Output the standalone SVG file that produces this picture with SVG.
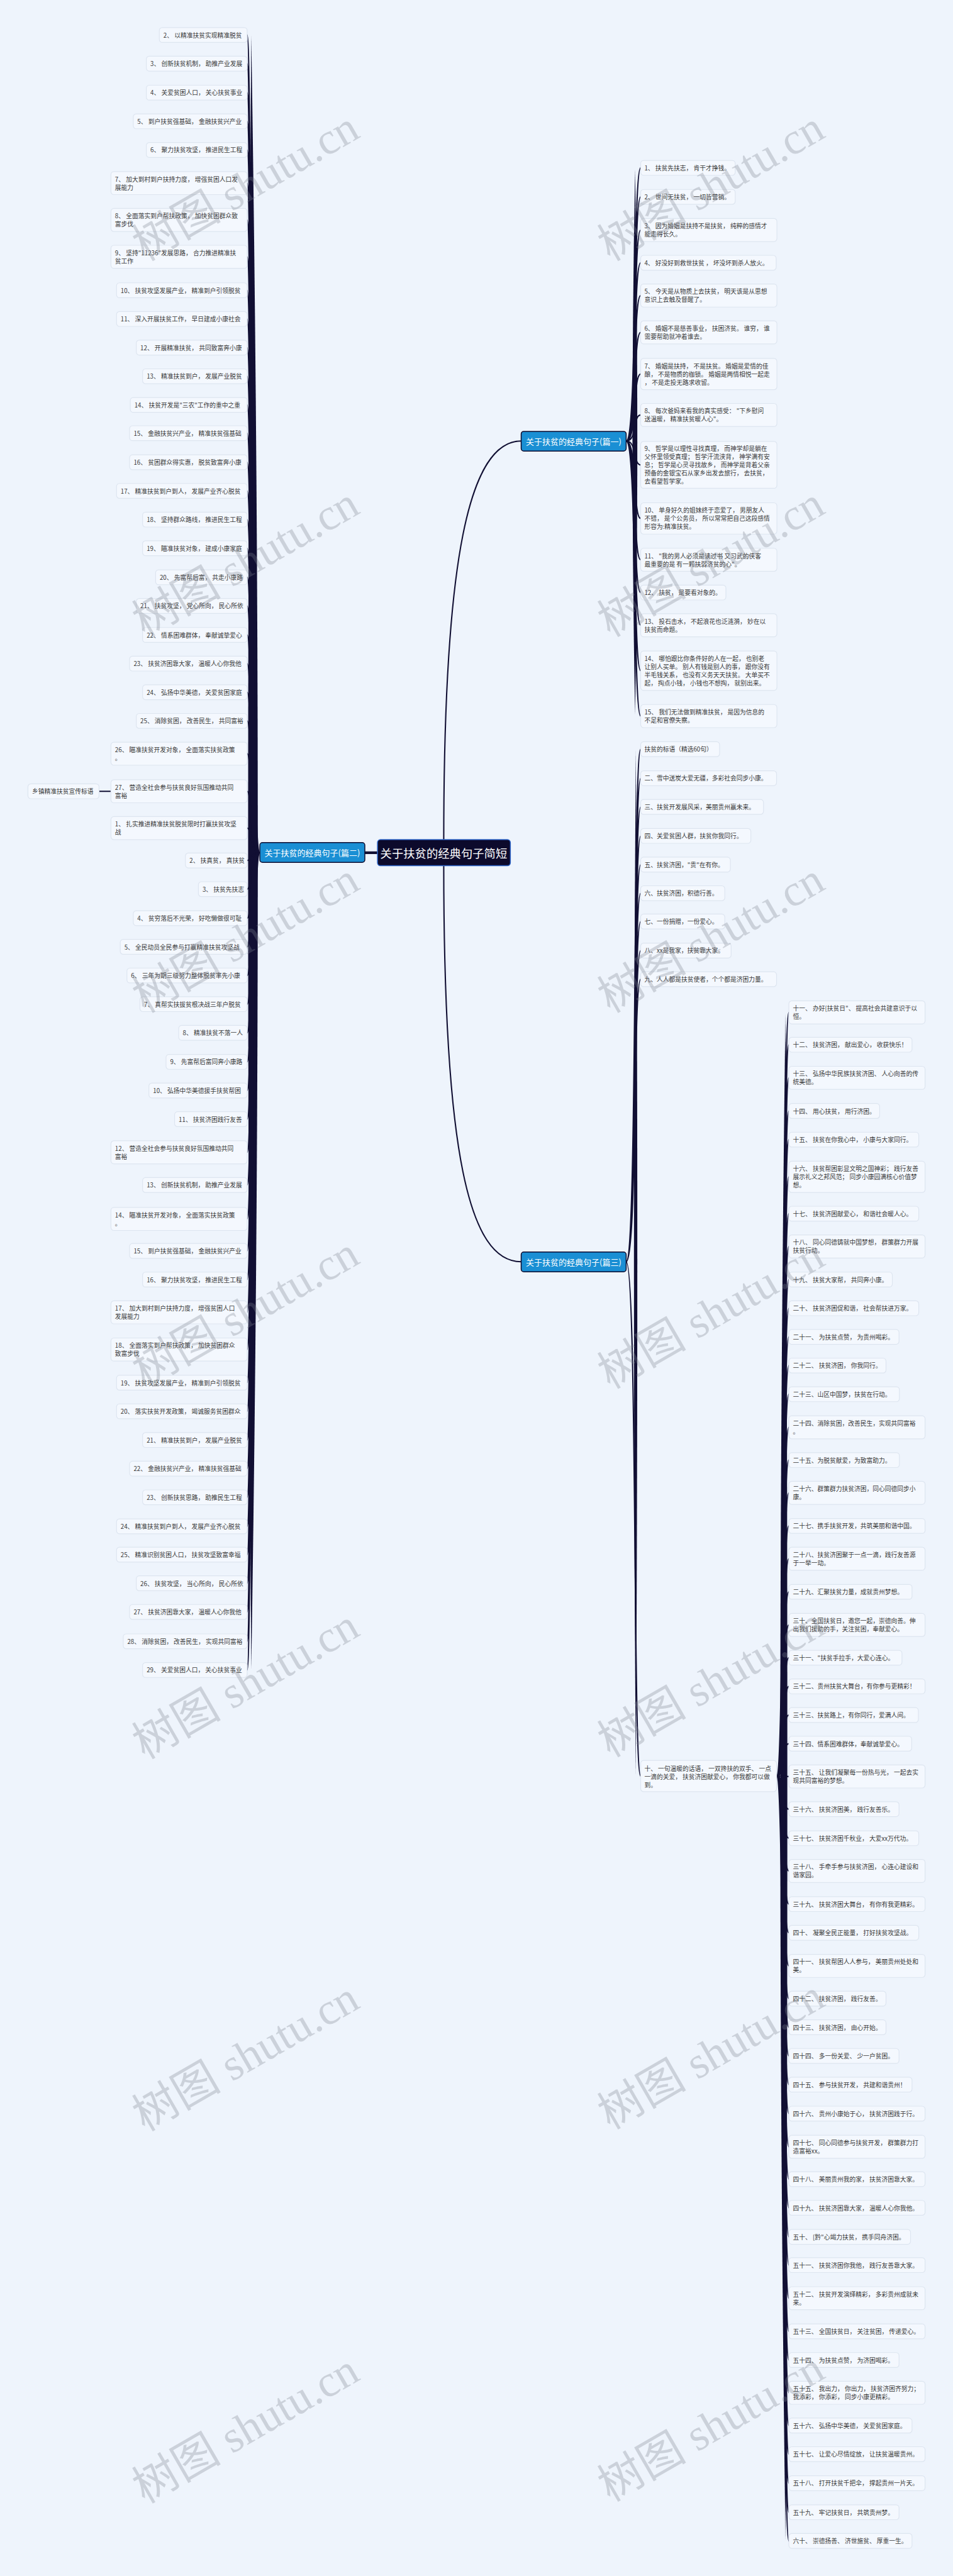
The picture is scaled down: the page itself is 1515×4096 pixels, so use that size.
<svg xmlns="http://www.w3.org/2000/svg" width="1515" height="4096" viewBox="0 0 1515 4096">
<style>
.b{fill:#f4f8fe;stroke:#dde5f0;stroke-width:2}
.t{font-family:"Noto Sans CJK SC","Noto Sans",sans-serif;font-size:16.5px;fill:#3a3a3a;dominant-baseline:central}
.c{fill:none;stroke:#110f33;stroke-width:3.5;stroke-linecap:round}
.k{fill:#110f33}
.bn{fill:#1a8fd4;stroke:#0d0b2e;stroke-width:2.5}
.tn{font-family:"Noto Sans CJK SC",sans-serif;font-size:22px;fill:#fff;text-anchor:middle;dominant-baseline:central}
.rn{fill:#0c0a2c;stroke:#2f66c9;stroke-width:2.5}
.tr{font-family:"Noto Sans CJK SC",sans-serif;font-size:31px;fill:#fff;text-anchor:middle;dominant-baseline:central}
.w{font-family:"Liberation Serif","Noto Sans CJK SC",serif;font-size:120px;fill:#7d838f;opacity:.3;text-anchor:middle;dominant-baseline:central}
</style>
<rect width="1515" height="4096" fill="#eef4fc"/>
<g transform="scale(0.5918)">
<g id="connectors">
<path class="k" d="M675 96Q710 2291 675 4484Q658 2291 675 96Z"/>
<path class="k" d="M1706 455Q1718 1185 1706 1920Q1692 1185 1706 455Z"/>
<path class="k" d="M1708 2015Q1716 3390 1708 4768Q1698 3390 1708 2015Z"/>
<path class="k" d="M2110 2722Q2120 4772 2110 6825Q2082 4772 2110 2722Z"/>
<path class="c" style="stroke-width:7" d="M980 2291H1014"/>
<path class="c" d="M1192 2256C1192 1500 1260 1185 1400 1185M1192 2326C1192 3100 1260 3390 1400 3390M266 2126H298"/>
<path class="c" d="M698 2291C670 2291 678 94 664 94M698 2291C670 2291 678 171 664 171M698 2291C670 2291 678 249 664 249M698 2291C670 2291 678 326 664 326M698 2291C670 2291 678 403 664 403M698 2291C670 2291 678 492 664 492M698 2291C670 2291 678 591 664 591M698 2291C670 2291 678 690 664 690M698 2291C670 2291 678 780 664 780M698 2291C670 2291 678 857 664 857M698 2291C670 2291 678 934 664 934M698 2291C670 2291 678 1011 664 1011M698 2291C670 2291 678 1088 664 1088M698 2291C670 2291 678 1164 664 1164M698 2291C670 2291 678 1242 664 1242M698 2291C670 2291 678 1319 664 1319M698 2291C670 2291 678 1396 664 1396M698 2291C670 2291 678 1473 664 1473M698 2291C670 2291 678 1551 664 1551M698 2291C670 2291 678 1628 664 1628M698 2291C670 2291 678 1706 664 1706M698 2291C670 2291 678 1783 664 1783M698 2291C670 2291 678 1860 664 1860M698 2291C670 2291 678 1937 664 1937M698 2291C670 2291 678 2025 664 2025M698 2291C670 2291 678 2126 664 2126M698 2291C670 2291 678 2225 664 2225M698 2291C670 2291 678 2312 664 2312M698 2291C670 2291 678 2389 664 2389M698 2291C670 2291 678 2467 664 2467M698 2291C670 2291 678 2544 664 2544M698 2291C670 2291 678 2621 664 2621M698 2291C670 2291 678 2698 664 2698M698 2291C670 2291 678 2775 664 2775M698 2291C670 2291 678 2853 664 2853M698 2291C670 2291 678 2930 664 2930M698 2291C670 2291 678 3007 664 3007M698 2291C670 2291 678 3096 664 3096M698 2291C670 2291 678 3184 664 3184M698 2291C670 2291 678 3275 664 3275M698 2291C670 2291 678 3361 664 3361M698 2291C670 2291 678 3438 664 3438M698 2291C670 2291 678 3526 664 3526M698 2291C670 2291 678 3626 664 3626M698 2291C670 2291 678 3715 664 3715M698 2291C670 2291 678 3792 664 3792M698 2291C670 2291 678 3869 664 3869M698 2291C670 2291 678 3946 664 3946M698 2291C670 2291 678 4023 664 4023M698 2291C670 2291 678 4101 664 4101M698 2291C670 2291 678 4177 664 4177M698 2291C670 2291 678 4254 664 4254M698 2291C670 2291 678 4331 664 4331M698 2291C670 2291 678 4410 664 4410M698 2291C670 2291 678 4487 664 4487"/>
<path class="c" d="M1682 1185C1712 1185 1700 451 1721 451M1682 1185C1712 1185 1700 529 1721 529M1682 1185C1712 1185 1700 618 1721 618M1682 1185C1712 1185 1700 706 1721 706M1682 1185C1712 1185 1700 794 1721 794M1682 1185C1712 1185 1700 893 1721 893M1682 1185C1712 1185 1700 1005 1721 1005M1682 1185C1712 1185 1700 1115 1721 1115M1682 1185C1712 1185 1700 1249 1721 1249M1682 1185C1712 1185 1700 1393 1721 1393M1682 1185C1712 1185 1700 1504 1721 1504M1682 1185C1712 1185 1700 1592 1721 1592M1682 1185C1712 1185 1700 1680 1721 1680M1682 1185C1712 1185 1700 1802 1721 1802M1682 1185C1712 1185 1700 1924 1721 1924"/>
<path class="c" d="M1682 3390C1712 3390 1700 2013 1721 2013M1682 3390C1712 3390 1700 2091 1721 2091M1682 3390C1712 3390 1700 2168 1721 2168M1682 3390C1712 3390 1700 2246 1721 2246M1682 3390C1712 3390 1700 2323 1721 2323M1682 3390C1712 3390 1700 2400 1721 2400M1682 3390C1712 3390 1700 2476 1721 2476M1682 3390C1712 3390 1700 2554 1721 2554M1682 3390C1712 3390 1700 2631 1721 2631M1682 3390C1712 3390 1700 4772 1721 4772"/>
<path class="c" d="M2086 4772C2112 4772 2100 2720 2119 2720M2086 4772C2112 4772 2100 2807 2119 2807M2086 4772C2112 4772 2100 2896 2119 2896M2086 4772C2112 4772 2100 2985 2119 2985M2086 4772C2112 4772 2100 3062 2119 3062M2086 4772C2112 4772 2100 3162 2119 3162M2086 4772C2112 4772 2100 3261 2119 3261M2086 4772C2112 4772 2100 3349 2119 3349M2086 4772C2112 4772 2100 3438 2119 3438M2086 4772C2112 4772 2100 3515 2119 3515M2086 4772C2112 4772 2100 3592 2119 3592M2086 4772C2112 4772 2100 3669 2119 3669M2086 4772C2112 4772 2100 3746 2119 3746M2086 4772C2112 4772 2100 3835 2119 3835M2086 4772C2112 4772 2100 3923 2119 3923M2086 4772C2112 4772 2100 4011 2119 4011M2086 4772C2112 4772 2100 4100 2119 4100M2086 4772C2112 4772 2100 4188 2119 4188M2086 4772C2112 4772 2100 4277 2119 4277M2086 4772C2112 4772 2100 4366 2119 4366M2086 4772C2112 4772 2100 4454 2119 4454M2086 4772C2112 4772 2100 4531 2119 4531M2086 4772C2112 4772 2100 4608 2119 4608M2086 4772C2112 4772 2100 4685 2119 4685M2086 4772C2112 4772 2100 4773 2119 4773M2086 4772C2112 4772 2100 4861 2119 4861M2086 4772C2112 4772 2100 4939 2119 4939M2086 4772C2112 4772 2100 5027 2119 5027M2086 4772C2112 4772 2100 5116 2119 5116M2086 4772C2112 4772 2100 5193 2119 5193M2086 4772C2112 4772 2100 5282 2119 5282M2086 4772C2112 4772 2100 5370 2119 5370M2086 4772C2112 4772 2100 5447 2119 5447M2086 4772C2112 4772 2100 5524 2119 5524M2086 4772C2112 4772 2100 5601 2119 5601M2086 4772C2112 4772 2100 5679 2119 5679M2086 4772C2112 4772 2100 5768 2119 5768M2086 4772C2112 4772 2100 5855 2119 5855M2086 4772C2112 4772 2100 5932 2119 5932M2086 4772C2112 4772 2100 6010 2119 6010M2086 4772C2112 4772 2100 6086 2119 6086M2086 4772C2112 4772 2100 6175 2119 6175M2086 4772C2112 4772 2100 6264 2119 6264M2086 4772C2112 4772 2100 6341 2119 6341M2086 4772C2112 4772 2100 6429 2119 6429M2086 4772C2112 4772 2100 6517 2119 6517M2086 4772C2112 4772 2100 6594 2119 6594M2086 4772C2112 4772 2100 6672 2119 6672M2086 4772C2112 4772 2100 6750 2119 6750M2086 4772C2112 4772 2100 6827 2119 6827"/>
</g>

<g id="root"><rect class="rn" x="1014" y="2256" width="357" height="70" rx="8"/><text class="tr" x="1192" y="2291">关于扶贫的经典句子简短</text></g>
<g id="b2"><rect class="bn" x="698" y="2264" width="282" height="53" rx="7"/><text class="tn" x="839" y="2291">关于扶贫的经典句子(篇二)</text></g>
<g id="b1"><rect class="bn" x="1400" y="1159" width="282" height="53" rx="7"/><text class="tn" x="1541" y="1185">关于扶贫的经典句子(篇一)</text></g>
<g id="b3"><rect class="bn" x="1400" y="3364" width="282" height="53" rx="7"/><text class="tn" x="1541" y="3390">关于扶贫的经典句子(篇三)</text></g>

<g id="a2"><rect class="b" x="428" y="74" width="236" height="40" rx="8"/><text class="t" x="439" y="94">2、 以精准扶贫实现精准脱贫</text></g>
<g id="a3"><rect class="b" x="393" y="151" width="271" height="40" rx="8"/><text class="t" x="404" y="171">3、 创新扶贫机制， 助推产业发展</text></g>
<g id="a4"><rect class="b" x="393" y="229" width="271" height="40" rx="8"/><text class="t" x="404" y="249">4、 关爱贫困人口， 关心扶贫事业</text></g>
<g id="a5"><rect class="b" x="358" y="306" width="306" height="40" rx="8"/><text class="t" x="369" y="326">5、 到户扶贫强基础， 金融扶贫兴产业</text></g>
<g id="a6"><rect class="b" x="393" y="383" width="271" height="40" rx="8"/><text class="t" x="404" y="403">6、 聚力扶贫攻坚， 推进民生工程</text></g>
<g id="a7"><rect class="b" x="298" y="461" width="366" height="62" rx="8"/><text class="t" x="309" y="481">7、 加大到村到户扶持力度， 增强贫困人口发<tspan x="309" y="503">展能力</tspan></text></g>
<g id="a8"><rect class="b" x="298" y="560" width="366" height="62" rx="8"/><text class="t" x="309" y="580">8、 全面落实到户帮扶政策， 加快贫困群众致<tspan x="309" y="602">富步伐</tspan></text></g>
<g id="a9"><rect class="b" x="298" y="659" width="366" height="62" rx="8"/><text class="t" x="309" y="679">9、 坚持"11236"发展思路， 合力推进精准扶<tspan x="309" y="701">贫工作</tspan></text></g>
<g id="a10"><rect class="b" x="313" y="760" width="351" height="40" rx="8"/><text class="t" x="324" y="780">10、 扶贫攻坚发展产业， 精准到户引领脱贫</text></g>
<g id="a11"><rect class="b" x="313" y="837" width="351" height="40" rx="8"/><text class="t" x="324" y="857">11、 深入开展扶贫工作， 早日建成小康社会</text></g>
<g id="a12"><rect class="b" x="366" y="914" width="298" height="40" rx="8"/><text class="t" x="377" y="934">12、 开展精准扶贫， 共同致富奔小康</text></g>
<g id="a13"><rect class="b" x="383" y="991" width="281" height="40" rx="8"/><text class="t" x="394" y="1011">13、 精准扶贫到户， 发展产业脱贫</text></g>
<g id="a14"><rect class="b" x="350" y="1068" width="314" height="40" rx="8"/><text class="t" x="361" y="1088">14、 扶贫开发是"三农"工作的重中之重</text></g>
<g id="a15"><rect class="b" x="348" y="1144" width="316" height="40" rx="8"/><text class="t" x="359" y="1164">15、 金融扶贫兴产业， 精准扶贫强基础</text></g>
<g id="a16"><rect class="b" x="348" y="1222" width="316" height="40" rx="8"/><text class="t" x="359" y="1242">16、 贫困群众得实惠， 脱贫致富奔小康</text></g>
<g id="a17"><rect class="b" x="313" y="1299" width="351" height="40" rx="8"/><text class="t" x="324" y="1319">17、 精准扶贫到户到人， 发展产业齐心脱贫</text></g>
<g id="a18"><rect class="b" x="383" y="1376" width="281" height="40" rx="8"/><text class="t" x="394" y="1396">18、 坚持群众路线， 推进民生工程</text></g>
<g id="a19"><rect class="b" x="383" y="1453" width="281" height="40" rx="8"/><text class="t" x="394" y="1473">19、 瞄准扶贫对象， 建成小康家庭</text></g>
<g id="a20"><rect class="b" x="418" y="1531" width="246" height="40" rx="8"/><text class="t" x="429" y="1551">20、 先富帮后富， 共走小康路</text></g>
<g id="a21"><rect class="b" x="366" y="1608" width="298" height="40" rx="8"/><text class="t" x="377" y="1628">21、 扶贫攻坚， 党心所向， 民心所依</text></g>
<g id="a22"><rect class="b" x="383" y="1686" width="281" height="40" rx="8"/><text class="t" x="394" y="1706">22、 情系困难群体， 奉献诚挚爱心</text></g>
<g id="a23"><rect class="b" x="348" y="1763" width="316" height="40" rx="8"/><text class="t" x="359" y="1783">23、 扶贫济困靠大家， 温暖人心你我他</text></g>
<g id="a24"><rect class="b" x="383" y="1840" width="281" height="40" rx="8"/><text class="t" x="394" y="1860">24、 弘扬中华美德， 关爱贫困家庭</text></g>
<g id="a25"><rect class="b" x="366" y="1917" width="298" height="40" rx="8"/><text class="t" x="377" y="1937">25、 消除贫困， 改善民生， 共同富裕</text></g>
<g id="a26"><rect class="b" x="298" y="1994" width="366" height="62" rx="8"/><text class="t" x="309" y="2014">26、 瞄准扶贫开发对象， 全面落实扶贫政策<tspan x="309" y="2036">。</tspan></text></g>
<g id="a27"><rect class="b" x="298" y="2095" width="366" height="62" rx="8"/><text class="t" x="309" y="2115">27、 营造全社会参与扶贫良好氛围推动共同<tspan x="309" y="2137">富裕</tspan></text></g>
<g id="xz"><rect class="b" x="75" y="2106" width="191" height="40" rx="8"/><text class="t" x="86" y="2126">乡镇精准扶贫宣传标语</text></g>
<g id="m1"><rect class="b" x="298" y="2194" width="366" height="62" rx="8"/><text class="t" x="309" y="2214">1、 扎实推进精准扶贫脱贫限时打赢扶贫攻坚<tspan x="309" y="2236">战</tspan></text></g>
<g id="m2"><rect class="b" x="498" y="2292" width="166" height="40" rx="8"/><text class="t" x="509" y="2312">2、 扶真贫， 真扶贫</text></g>
<g id="m3"><rect class="b" x="533" y="2369" width="131" height="40" rx="8"/><text class="t" x="544" y="2389">3、 扶贫先扶志</text></g>
<g id="m4"><rect class="b" x="358" y="2447" width="306" height="40" rx="8"/><text class="t" x="369" y="2467">4、 贫穷落后不光荣， 好吃懒做很可耻</text></g>
<g id="m5"><rect class="b" x="323" y="2524" width="341" height="40" rx="8"/><text class="t" x="334" y="2544">5、 全民动员全民参与打赢精准扶贫攻坚战</text></g>
<g id="m6"><rect class="b" x="341" y="2601" width="323" height="40" rx="8"/><text class="t" x="352" y="2621">6、 三年为期三级努力整体脱贫率先小康</text></g>
<g id="m7"><rect class="b" x="376" y="2678" width="288" height="40" rx="8"/><text class="t" x="387" y="2698">7、 真帮实扶拔贫根决战三年户脱贫</text></g>
<g id="m8"><rect class="b" x="480" y="2755" width="184" height="40" rx="8"/><text class="t" x="491" y="2775">8、 精准扶贫不落一人</text></g>
<g id="m9"><rect class="b" x="446" y="2833" width="218" height="40" rx="8"/><text class="t" x="457" y="2853">9、 先富帮后富同奔小康路</text></g>
<g id="m10"><rect class="b" x="400" y="2910" width="264" height="40" rx="8"/><text class="t" x="411" y="2930">10、 弘扬中华美德援手扶贫帮困</text></g>
<g id="m11"><rect class="b" x="469" y="2987" width="195" height="40" rx="8"/><text class="t" x="480" y="3007">11、 扶贫济困践行友善</text></g>
<g id="m12"><rect class="b" x="298" y="3065" width="366" height="62" rx="8"/><text class="t" x="309" y="3085">12、 营造全社会参与扶贫良好氛围推动共同<tspan x="309" y="3107">富裕</tspan></text></g>
<g id="m13"><rect class="b" x="383" y="3164" width="281" height="40" rx="8"/><text class="t" x="394" y="3184">13、 创新扶贫机制， 助推产业发展</text></g>
<g id="m14"><rect class="b" x="298" y="3244" width="366" height="62" rx="8"/><text class="t" x="309" y="3264">14、 瞄准扶贫开发对象， 全面落实扶贫政策<tspan x="309" y="3286">。</tspan></text></g>
<g id="m15"><rect class="b" x="348" y="3341" width="316" height="40" rx="8"/><text class="t" x="359" y="3361">15、 到户扶贫强基础， 金融扶贫兴产业</text></g>
<g id="m16"><rect class="b" x="383" y="3418" width="281" height="40" rx="8"/><text class="t" x="394" y="3438">16、 聚力扶贫攻坚， 推进民生工程</text></g>
<g id="m17"><rect class="b" x="298" y="3495" width="366" height="62" rx="8"/><text class="t" x="309" y="3515">17、 加大到村到户扶持力度， 增强贫困人口<tspan x="309" y="3537">发展能力</tspan></text></g>
<g id="m18"><rect class="b" x="298" y="3595" width="366" height="62" rx="8"/><text class="t" x="309" y="3615">18、 全面落实到户帮扶政策， 加快贫困群众<tspan x="309" y="3637">致富步伐</tspan></text></g>
<g id="m19"><rect class="b" x="313" y="3695" width="351" height="40" rx="8"/><text class="t" x="324" y="3715">19、 扶贫攻坚发展产业， 精准到户引领脱贫</text></g>
<g id="m20"><rect class="b" x="313" y="3772" width="351" height="40" rx="8"/><text class="t" x="324" y="3792">20、 落实扶贫开发政策， 竭诚服务贫困群众</text></g>
<g id="m21"><rect class="b" x="383" y="3849" width="281" height="40" rx="8"/><text class="t" x="394" y="3869">21、 精准扶贫到户， 发展产业脱贫</text></g>
<g id="m22"><rect class="b" x="348" y="3926" width="316" height="40" rx="8"/><text class="t" x="359" y="3946">22、 金融扶贫兴产业， 精准扶贫强基础</text></g>
<g id="m23"><rect class="b" x="383" y="4003" width="281" height="40" rx="8"/><text class="t" x="394" y="4023">23、 创新扶贫思路， 助推民生工程</text></g>
<g id="m24"><rect class="b" x="313" y="4081" width="351" height="40" rx="8"/><text class="t" x="324" y="4101">24、 精准扶贫到户到人， 发展产业齐心脱贫</text></g>
<g id="m25"><rect class="b" x="313" y="4157" width="351" height="40" rx="8"/><text class="t" x="324" y="4177">25、 精准识别贫困人口， 扶贫攻坚致富幸福</text></g>
<g id="m26"><rect class="b" x="366" y="4234" width="298" height="40" rx="8"/><text class="t" x="377" y="4254">26、 扶贫攻坚， 当心所向， 民心所依</text></g>
<g id="m27"><rect class="b" x="348" y="4311" width="316" height="40" rx="8"/><text class="t" x="359" y="4331">27、 扶贫济困靠大家， 温暖人心你我他</text></g>
<g id="m28"><rect class="b" x="331" y="4390" width="333" height="40" rx="8"/><text class="t" x="342" y="4410">28、 消除贫困， 改善民生， 实现共同富裕</text></g>
<g id="m29"><rect class="b" x="383" y="4467" width="281" height="40" rx="8"/><text class="t" x="394" y="4487">29、 关爱贫困人口， 关心扶贫事业</text></g>

<g id="p1"><rect class="b" x="1721" y="431" width="254" height="40" rx="8"/><text class="t" x="1731" y="451">1、 扶贫先扶志， 肯干才挣钱。</text></g>
<g id="p2"><rect class="b" x="1721" y="509" width="254" height="40" rx="8"/><text class="t" x="1731" y="529">2、 世间无扶贫， 一切皆营销。</text></g>
<g id="p3"><rect class="b" x="1721" y="587" width="366" height="62" rx="8"/><text class="t" x="1731" y="607">3、 因为婚姻是扶持不是扶贫， 纯粹的感情才<tspan x="1731" y="629">能走得长久。</tspan></text></g>
<g id="p4"><rect class="b" x="1721" y="686" width="364" height="40" rx="8"/><text class="t" x="1731" y="706">4、 好没好到救世扶贫 ， 坏没坏到杀人放火。</text></g>
<g id="p5"><rect class="b" x="1721" y="763" width="366" height="62" rx="8"/><text class="t" x="1731" y="783">5、 今天是从物质上去扶贫， 明天该是从思想<tspan x="1731" y="805">意识上去触及督醒了。</tspan></text></g>
<g id="p6"><rect class="b" x="1721" y="862" width="366" height="62" rx="8"/><text class="t" x="1731" y="882">6、 婚姻不是慈善事业， 扶困济贫。 谁穷， 谁<tspan x="1731" y="904">需要帮助就冲着谁去。</tspan></text></g>
<g id="p7"><rect class="b" x="1721" y="963" width="366" height="84" rx="8"/><text class="t" x="1731" y="983">7、 婚姻是扶持， 不是扶贫。 婚姻是爱情的佳<tspan x="1731" y="1005">酿， 不是物质的枷锁。 婚姻是两情相悦一起走</tspan><tspan x="1731" y="1027">， 不是走投无路求收留。</tspan></text></g>
<g id="p8"><rect class="b" x="1721" y="1084" width="366" height="62" rx="8"/><text class="t" x="1731" y="1104">8、 每次爸妈来看我的真实感受： "下乡慰问<tspan x="1731" y="1126">送温暖， 精准扶贫暖人心"。</tspan></text></g>
<g id="p9"><rect class="b" x="1721" y="1186" width="366" height="126" rx="8"/><text class="t" x="1731" y="1205">9、 哲学是以理性寻找真理， 而神学却是躺在<tspan x="1731" y="1227">父怀里领受真理； 哲学汗流浃背， 神学满有安</tspan><tspan x="1731" y="1249">息； 哲学是心灵寻找故乡， 而神学是背着父亲</tspan><tspan x="1731" y="1271">预备的金银宝石从家乡出发去旅行， 去扶贫，</tspan><tspan x="1731" y="1293">去看望哲学家。</tspan></text></g>
<g id="p10"><rect class="b" x="1721" y="1351" width="366" height="84" rx="8"/><text class="t" x="1731" y="1371">10、 单身好久的姐妹终于恋爱了， 男朋友人<tspan x="1731" y="1393">不错， 是个公务员， 所以常常把自己这段感情</tspan><tspan x="1731" y="1415">形容为:精准扶贫。</tspan></text></g>
<g id="p11"><rect class="b" x="1721" y="1473" width="366" height="62" rx="8"/><text class="t" x="1731" y="1493">11、 "我的男人必须是读过书 又习武的侠客<tspan x="1731" y="1515">最重要的是 有一颗扶弱济贫的心"。</tspan></text></g>
<g id="p12"><rect class="b" x="1721" y="1572" width="229" height="40" rx="8"/><text class="t" x="1731" y="1592">12、 扶贫， 是要看对象的。</text></g>
<g id="p13"><rect class="b" x="1721" y="1649" width="366" height="62" rx="8"/><text class="t" x="1731" y="1669">13、 投石击水， 不起浪花也泛涟漪， 妙在以<tspan x="1731" y="1691">扶贫而命题。</tspan></text></g>
<g id="p14"><rect class="b" x="1721" y="1749" width="366" height="106" rx="8"/><text class="t" x="1731" y="1769">14、 哪怕跟比你条件好的人在一起， 也别老<tspan x="1731" y="1791">让别人买单。 别人有钱是别人的事， 跟你没有</tspan><tspan x="1731" y="1813">半毛钱关系， 也没有义务天天扶贫。 大单买不</tspan><tspan x="1731" y="1835">起， 掏点小钱， 小钱也不想掏， 就别出来。</tspan></text></g>
<g id="p15"><rect class="b" x="1721" y="1893" width="366" height="62" rx="8"/><text class="t" x="1731" y="1913">15、 我们无法做到精准扶贫， 是因为信息的<tspan x="1731" y="1935">不足和官僚失察。</tspan></text></g>

<g id="s0"><rect class="b" x="1721" y="1993" width="212" height="40" rx="8"/><text class="t" x="1731" y="2013">扶贫的标语（精选60句）</text></g>
<g id="s2"><rect class="b" x="1721" y="2071" width="365" height="40" rx="8"/><text class="t" x="1731" y="2091">二、雪中送炭大爱无疆，多彩社会同步小康。</text></g>
<g id="s3"><rect class="b" x="1721" y="2148" width="330" height="40" rx="8"/><text class="t" x="1731" y="2168">三、扶贫开发展风采，美丽贵州赢未来。</text></g>
<g id="s4"><rect class="b" x="1721" y="2226" width="296" height="40" rx="8"/><text class="t" x="1731" y="2246">四、关爱贫困人群，扶贫你我同行。</text></g>
<g id="s5"><rect class="b" x="1721" y="2303" width="241" height="40" rx="8"/><text class="t" x="1731" y="2323">五、扶贫济困，"贵"在有你。</text></g>
<g id="s6"><rect class="b" x="1721" y="2380" width="226" height="40" rx="8"/><text class="t" x="1731" y="2400">六、扶贫济困，积德行善。</text></g>
<g id="s7"><rect class="b" x="1721" y="2456" width="226" height="40" rx="8"/><text class="t" x="1731" y="2476">七、一份捐赠，一份爱心。</text></g>
<g id="s8"><rect class="b" x="1721" y="2534" width="243" height="40" rx="8"/><text class="t" x="1731" y="2554">八、xx是我家，扶贫靠大家。</text></g>
<g id="s9"><rect class="b" x="1721" y="2611" width="365" height="40" rx="8"/><text class="t" x="1731" y="2631">九、人人都是扶贫使者，个个都是济困力量。</text></g>
<g id="s10"><rect class="b" x="1721" y="4730" width="365" height="84" rx="8"/><text class="t" x="1731" y="4751">十、 一句温暖的话语， 一双搀扶的双手、 一点<tspan x="1731" y="4773">一滴的关爱， 扶贫济困献爱心， 你我都可以做</tspan><tspan x="1731" y="4795">到。</tspan></text></g>

<g id="t11"><rect class="b" x="2119" y="2689" width="366" height="62" rx="8"/><text class="t" x="2130" y="2709">十一、 办好[扶贫日"、 提高社会共建意识于以<tspan x="2130" y="2731">恒。</tspan></text></g>
<g id="t12"><rect class="b" x="2119" y="2787" width="331" height="40" rx="8"/><text class="t" x="2130" y="2807">十二、 扶贫济困， 献出爱心， 收获快乐！</text></g>
<g id="t13"><rect class="b" x="2119" y="2865" width="366" height="62" rx="8"/><text class="t" x="2130" y="2885">十三、 弘扬中华民族扶贫济困、 人心向善的传<tspan x="2130" y="2907">统美德。</tspan></text></g>
<g id="t14"><rect class="b" x="2119" y="2965" width="244" height="40" rx="8"/><text class="t" x="2130" y="2985">十四、 用心扶贫， 用行济困。</text></g>
<g id="t15"><rect class="b" x="2119" y="3042" width="349" height="40" rx="8"/><text class="t" x="2130" y="3062">十五、 扶贫在你我心中， 小康与大家同行。</text></g>
<g id="t16"><rect class="b" x="2119" y="3120" width="366" height="84" rx="8"/><text class="t" x="2130" y="3140">十六、 扶贫帮困彰显文明之国神彩； 践行友善<tspan x="2130" y="3162">展示礼义之邦风范； 同步小康园满核心价值梦</tspan><tspan x="2130" y="3184">想。</tspan></text></g>
<g id="t17"><rect class="b" x="2119" y="3241" width="349" height="40" rx="8"/><text class="t" x="2130" y="3261">十七、 扶贫济困献爱心， 和谐社会暖人心。</text></g>
<g id="t18"><rect class="b" x="2119" y="3318" width="366" height="62" rx="8"/><text class="t" x="2130" y="3338">十八、 同心同德铸就中国梦想， 群策群力开展<tspan x="2130" y="3360">扶贫行动。</tspan></text></g>
<g id="t19"><rect class="b" x="2119" y="3418" width="278" height="40" rx="8"/><text class="t" x="2130" y="3438">十九、 扶贫大家帮， 共同奔小康。</text></g>
<g id="t20"><rect class="b" x="2119" y="3495" width="349" height="40" rx="8"/><text class="t" x="2130" y="3515">二十、 扶贫济困促和谐， 社会帮扶进万家。</text></g>
<g id="t21"><rect class="b" x="2119" y="3572" width="296" height="40" rx="8"/><text class="t" x="2130" y="3592">二十一、 为扶贫点赞， 为贵州喝彩。</text></g>
<g id="t22"><rect class="b" x="2119" y="3649" width="261" height="40" rx="8"/><text class="t" x="2130" y="3669">二十二、 扶贫济困， 你我同行。</text></g>
<g id="t23"><rect class="b" x="2119" y="3726" width="297" height="40" rx="8"/><text class="t" x="2130" y="3746">二十三、山区中国梦，扶贫在行动。</text></g>
<g id="t24"><rect class="b" x="2119" y="3804" width="366" height="62" rx="8"/><text class="t" x="2130" y="3824">二十四、消除贫困，改善民生，实现共同富裕<tspan x="2130" y="3846">。</tspan></text></g>
<g id="t25"><rect class="b" x="2119" y="3903" width="297" height="40" rx="8"/><text class="t" x="2130" y="3923">二十五、为脱贫献爱，为致富助力。</text></g>
<g id="t26"><rect class="b" x="2119" y="3980" width="366" height="62" rx="8"/><text class="t" x="2130" y="4000">二十六、群策群力扶贫济困，同心同德同步小<tspan x="2130" y="4022">康。</tspan></text></g>
<g id="t27"><rect class="b" x="2119" y="4080" width="366" height="40" rx="8"/><text class="t" x="2130" y="4100">二十七、携手扶贫开发，共筑美丽和谐中国。</text></g>
<g id="t28"><rect class="b" x="2119" y="4157" width="366" height="62" rx="8"/><text class="t" x="2130" y="4177">二十八、扶贫济困聚于一点一滴，践行友善源<tspan x="2130" y="4199">于一举一动。</tspan></text></g>
<g id="t29"><rect class="b" x="2119" y="4257" width="331" height="40" rx="8"/><text class="t" x="2130" y="4277">二十九、汇聚扶贫力量，成就贵州梦想。</text></g>
<g id="t30"><rect class="b" x="2119" y="4335" width="366" height="62" rx="8"/><text class="t" x="2130" y="4355">三十、全国扶贫日，邀您一起，崇德向善。伸<tspan x="2130" y="4377">出我们援助的手，关注贫困，奉献爱心。</tspan></text></g>
<g id="t31"><rect class="b" x="2119" y="4434" width="304" height="40" rx="8"/><text class="t" x="2130" y="4454">三十一、"扶贫手拉手，大爱心连心。</text></g>
<g id="t32"><rect class="b" x="2119" y="4511" width="366" height="40" rx="8"/><text class="t" x="2130" y="4531">三十二、贵州扶贫大舞台，有你参与更精彩！</text></g>
<g id="t33"><rect class="b" x="2119" y="4588" width="348" height="40" rx="8"/><text class="t" x="2130" y="4608">三十三、扶贫路上，有你同行，爱满人间。</text></g>
<g id="t34"><rect class="b" x="2119" y="4665" width="330" height="40" rx="8"/><text class="t" x="2130" y="4685">三十四、情系困难群体，奉献诚挚爱心。</text></g>
<g id="t35"><rect class="b" x="2119" y="4742" width="366" height="62" rx="8"/><text class="t" x="2130" y="4762">三十五、 让我们凝聚每一份热与光， 一起去实<tspan x="2130" y="4784">现共同富裕的梦想。</tspan></text></g>
<g id="t36"><rect class="b" x="2119" y="4841" width="296" height="40" rx="8"/><text class="t" x="2130" y="4861">三十六、 扶贫济困美， 践行友善乐。</text></g>
<g id="t37"><rect class="b" x="2119" y="4919" width="349" height="40" rx="8"/><text class="t" x="2130" y="4939">三十七、 扶贫济困千秋业， 大爱xx万代功。</text></g>
<g id="t38"><rect class="b" x="2119" y="4996" width="366" height="62" rx="8"/><text class="t" x="2130" y="5016">三十八、 手牵手参与扶贫济困， 心连心建设和<tspan x="2130" y="5038">谐家园。</tspan></text></g>
<g id="t39"><rect class="b" x="2119" y="5096" width="366" height="40" rx="8"/><text class="t" x="2130" y="5116">三十九、 扶贫济困大舞台， 有你有我更精彩。</text></g>
<g id="t40"><rect class="b" x="2119" y="5173" width="349" height="40" rx="8"/><text class="t" x="2130" y="5193">四十、 凝聚全民正能量， 打好扶贫攻坚战。</text></g>
<g id="t41"><rect class="b" x="2119" y="5251" width="366" height="62" rx="8"/><text class="t" x="2130" y="5271">四十一、 扶贫帮困人人参与， 美丽贵州处处和<tspan x="2130" y="5293">美。</tspan></text></g>
<g id="t42"><rect class="b" x="2119" y="5350" width="261" height="40" rx="8"/><text class="t" x="2130" y="5370">四十二、 扶贫济困， 践行友善。</text></g>
<g id="t43"><rect class="b" x="2119" y="5427" width="261" height="40" rx="8"/><text class="t" x="2130" y="5447">四十三、 扶贫济困， 由心开始。</text></g>
<g id="t44"><rect class="b" x="2119" y="5504" width="296" height="40" rx="8"/><text class="t" x="2130" y="5524">四十四、 多一份关爱、 少一户贫困。</text></g>
<g id="t45"><rect class="b" x="2119" y="5581" width="331" height="40" rx="8"/><text class="t" x="2130" y="5601">四十五、 参与扶贫开发， 共建和谐贵州！</text></g>
<g id="t46"><rect class="b" x="2119" y="5659" width="366" height="40" rx="8"/><text class="t" x="2130" y="5679">四十六、 贵州小康始于心， 扶贫济困践于行。</text></g>
<g id="t47"><rect class="b" x="2119" y="5737" width="366" height="62" rx="8"/><text class="t" x="2130" y="5757">四十七、 同心同德参与扶贫开发， 群策群力打<tspan x="2130" y="5779">造富裕xx。</tspan></text></g>
<g id="t48"><rect class="b" x="2119" y="5835" width="366" height="40" rx="8"/><text class="t" x="2130" y="5855">四十八、 美丽贵州我的家， 扶贫济困靠大家。</text></g>
<g id="t49"><rect class="b" x="2119" y="5912" width="366" height="40" rx="8"/><text class="t" x="2130" y="5932">四十九、 扶贫济困靠大家， 温暖人心你我他。</text></g>
<g id="t50"><rect class="b" x="2119" y="5990" width="327" height="40" rx="8"/><text class="t" x="2130" y="6010">五十、 [黔"心竭力扶贫， 携手同舟济困。</text></g>
<g id="t51"><rect class="b" x="2119" y="6066" width="366" height="40" rx="8"/><text class="t" x="2130" y="6086">五十一、 扶贫济困你我他， 践行友善靠大家。</text></g>
<g id="t52"><rect class="b" x="2119" y="6144" width="366" height="62" rx="8"/><text class="t" x="2130" y="6164">五十二、 扶贫开发演绎精彩， 多彩贵州成就未<tspan x="2130" y="6186">来。</tspan></text></g>
<g id="t53"><rect class="b" x="2119" y="6244" width="366" height="40" rx="8"/><text class="t" x="2130" y="6264">五十三、 全国扶贫日， 关注贫困， 传递爱心。</text></g>
<g id="t54"><rect class="b" x="2119" y="6321" width="296" height="40" rx="8"/><text class="t" x="2130" y="6341">五十四、 为扶贫点赞， 为济困喝彩。</text></g>
<g id="t55"><rect class="b" x="2119" y="6398" width="366" height="62" rx="8"/><text class="t" x="2130" y="6418">五十五、 我出力， 你出力， 扶贫济困齐努力；<tspan x="2130" y="6440">我添彩， 你添彩， 同步小康更精彩。</tspan></text></g>
<g id="t56"><rect class="b" x="2119" y="6497" width="331" height="40" rx="8"/><text class="t" x="2130" y="6517">五十六、 弘扬中华美德， 关爱贫困家庭。</text></g>
<g id="t57"><rect class="b" x="2119" y="6574" width="366" height="40" rx="8"/><text class="t" x="2130" y="6594">五十七、 让爱心尽情绽放， 让扶贫温暖贵州。</text></g>
<g id="t58"><rect class="b" x="2119" y="6652" width="366" height="40" rx="8"/><text class="t" x="2130" y="6672">五十八、 打开扶贫千把伞， 撑起贵州一片天。</text></g>
<g id="t59"><rect class="b" x="2119" y="6730" width="296" height="40" rx="8"/><text class="t" x="2130" y="6750">五十九、 牢记扶贫日， 共筑贵州梦。</text></g>
<g id="t60"><rect class="b" x="2119" y="6807" width="331" height="40" rx="8"/><text class="t" x="2130" y="6827">六十、 崇德扬善、 济世施贫、 厚重一生。</text></g>

<g id="watermarks">
<text class="w" x="660" y="500" transform="rotate(-30 660 500)">树图 shutu.cn</text>
<text class="w" x="1910" y="500" transform="rotate(-30 1910 500)">树图 shutu.cn</text>
<text class="w" x="660" y="1510" transform="rotate(-30 660 1510)">树图 shutu.cn</text>
<text class="w" x="1910" y="1510" transform="rotate(-30 1910 1510)">树图 shutu.cn</text>
<text class="w" x="660" y="2520" transform="rotate(-30 660 2520)">树图 shutu.cn</text>
<text class="w" x="1910" y="2520" transform="rotate(-30 1910 2520)">树图 shutu.cn</text>
<text class="w" x="660" y="3525" transform="rotate(-30 660 3525)">树图 shutu.cn</text>
<text class="w" x="1910" y="3530" transform="rotate(-30 1910 3530)">树图 shutu.cn</text>
<text class="w" x="660" y="4525" transform="rotate(-30 660 4525)">树图 shutu.cn</text>
<text class="w" x="1910" y="4520" transform="rotate(-30 1910 4520)">树图 shutu.cn</text>
<text class="w" x="660" y="5525" transform="rotate(-30 660 5525)">树图 shutu.cn</text>
<text class="w" x="1910" y="5520" transform="rotate(-30 1910 5520)">树图 shutu.cn</text>
<text class="w" x="660" y="6525" transform="rotate(-30 660 6525)">树图 shutu.cn</text>
<text class="w" x="1910" y="6520" transform="rotate(-30 1910 6520)">树图 shutu.cn</text>
</g>
</g>
</svg>
